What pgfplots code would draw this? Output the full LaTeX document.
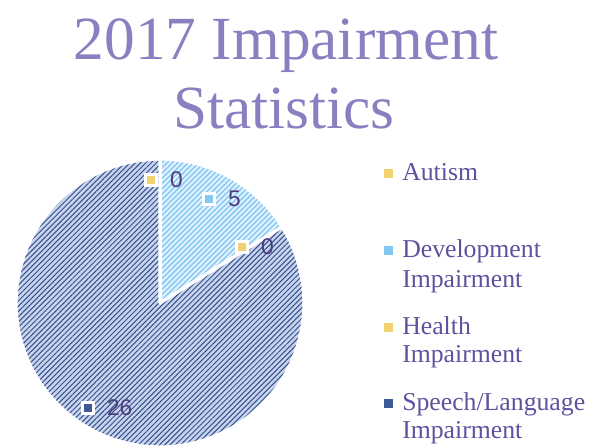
\documentclass[border=0pt]{standalone}
\usepackage{fontspec}
\setmainfont{Liberation Serif}
\newfontfamily\labelfont{Liberation Sans}
\usepackage{pgfplots}
\pgfplotsset{compat=1.18}
\usetikzlibrary{patterns.meta}

\definecolor{titlecol}{HTML}{8A7FC0}
\definecolor{legtext}{HTML}{5E519E}
\definecolor{labtext}{HTML}{4B3C7D}
\definecolor{speechbg}{HTML}{C9D3EC}
\definecolor{speechln}{HTML}{30508F}
\definecolor{devbg}{HTML}{DDF0FD}
\definecolor{devln}{HTML}{74C0F1}
\definecolor{autcol}{HTML}{F1D272}
\definecolor{speechkey}{HTML}{3E5A96}
\definecolor{devkey}{HTML}{82C8F2}

% values
\def\vAut{0}
\def\vDev{5}
\def\vHea{0}
\def\vSpe{26}

\begin{document}
\begin{tikzpicture}
\pgfmathsetmacro\tot{\vAut+\vDev+\vHea+\vSpe}
\pgfmathsetmacro\aB{360*\vAut/\tot}
\pgfmathsetmacro\aC{\aB+360*\vDev/\tot}
\pgfmathsetmacro\aD{\aC+360*\vHea/\tot}
\pgfmathsetmacro\aE{\aD+360*\vSpe/\tot}
\useasboundingbox (0,0) rectangle (452.25pt,334.5pt);
\begin{axis}[
  at={(0,0)}, anchor=south west,
  width=452.25pt, height=334.5pt, scale only axis,
  xmin=0, xmax=603, ymin=0, ymax=446,
  hide axis, clip=false,
  labelmark/.style={only marks, mark=square*, mark size=4.3pt,
    mark options={fill=#1, draw=white, line width=2.6pt},
    point meta=explicit, nodes near coords,
    nodes near coords={\pgfmathprintnumber[assume math mode=true]{\pgfplotspointmeta}},
    nodes near coords style={anchor=west, inner sep=0pt, xshift=13pt,
      font=\labelfont\fontsize{17}{17}\selectfont, text=labtext}},
]
% slices
\addplot[draw=white, line width=2.4pt, line join=round, preaction={fill=devbg},
  pattern={Lines[angle=45,distance=2.8pt,line width=0.8pt]}, pattern color=devln,
  domain=\aB:\aC, samples=40, variable=\t]
  ({160+144*sin(\t)},{143+144*cos(\t)}) -- (axis cs:160,143) -- cycle;
\addplot[draw=white, line width=2.4pt, line join=round, preaction={fill=speechbg},
  pattern={Lines[angle=45,distance=2.8pt,line width=0.75pt]}, pattern color=speechln,
  domain=\aD:\aE, samples=150, variable=\t]
  ({160+144*sin(\t)},{143+144*cos(\t)}) -- (axis cs:160,143) -- cycle;

% data labels
\addplot[labelmark=autcol] coordinates {(151,266) [\vAut]};
\addplot[labelmark=devkey] coordinates {(209,247) [\vDev]};
\addplot[labelmark=autcol] coordinates {(242,199) [\vHea]};
\addplot[labelmark=speechkey] coordinates {(88,38) [\vSpe]};

% title
\node[anchor=base, text=titlecol, font=\fontsize{46}{50}\selectfont, inner sep=0pt]
  at (axis cs:286,386) {2017 Impairment};
\node[anchor=base, text=titlecol, font=\fontsize{46}{50}\selectfont, inner sep=0pt]
  at (axis cs:284,317) {Statistics};

% legend
\fill[autcol] (axis cs:384,267.5) rectangle (axis cs:393,276.5);
\fill[devkey] (axis cs:384,190.5) rectangle (axis cs:393,199.5);
\fill[autcol] (axis cs:384,113.5) rectangle (axis cs:393,122.5);
\fill[speechkey] (axis cs:384,37.5) rectangle (axis cs:393,46.5);
\begin{scope}[every node/.style={anchor=base west, inner sep=0pt, text=legtext,
    font=\fontsize{19.3}{22}\selectfont}]
\node at (axis cs:402,265) {Autism};
\node at (axis cs:402,188) {Development};
\node at (axis cs:402,158) {Impairment};
\node at (axis cs:402,111) {Health};
\node at (axis cs:402,83) {Impairment};
\node at (axis cs:402,35) {Speech/Language};
\node at (axis cs:402,8) {Impairment};
\end{scope}
\end{axis}
\end{tikzpicture}
\end{document}
